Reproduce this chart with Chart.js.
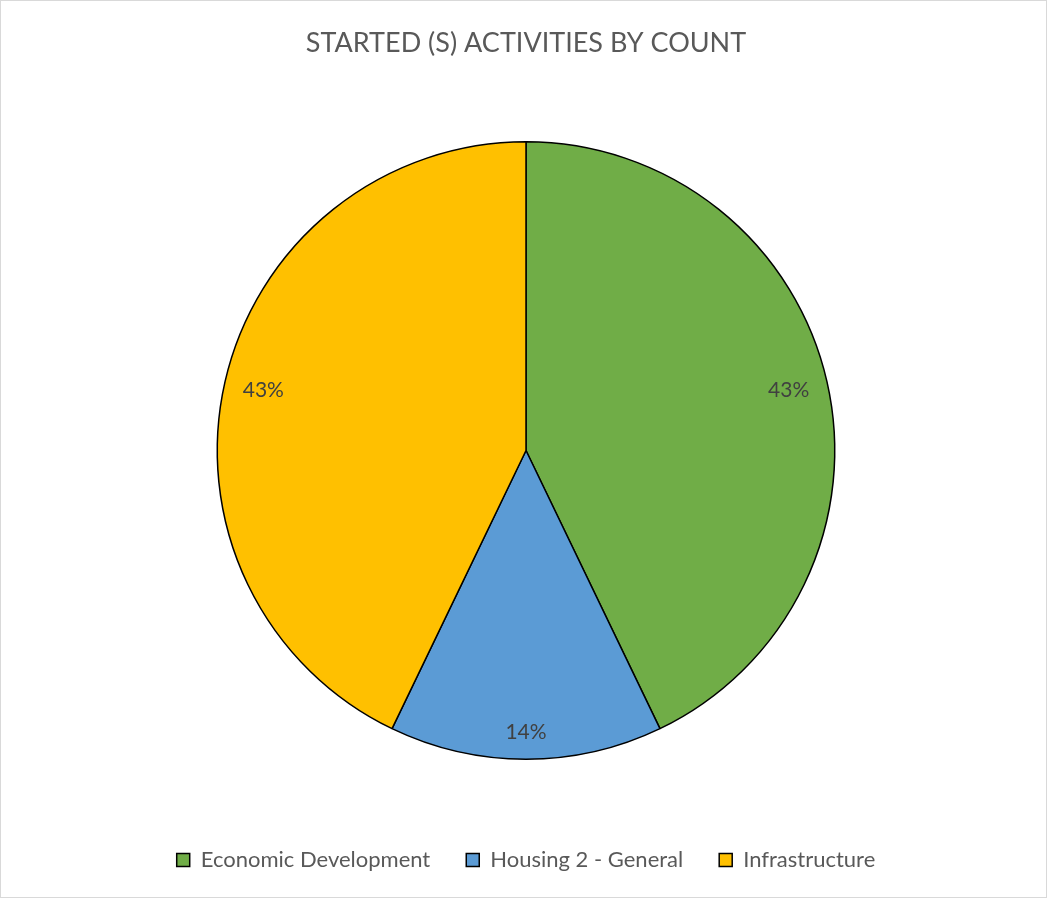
<!DOCTYPE html>
<html>
<head>
<meta charset="utf-8">
<script src="https://cdn.jsdelivr.net/npm/chart.js@4.4.1/dist/chart.umd.min.js"></script>
<style>
  body { margin: 0; background: #fff; overflow: hidden; }
  #wrap { position: relative; width: 1047px; height: 898px; overflow: hidden; }
  #frame { position: absolute; left: 0; top: 0; width: 1045px; height: 896px; border: 1px solid #d9d9d9; pointer-events: none; }
</style>
</head>
<body>
<div id="wrap">
  <canvas id="pie"></canvas>
  <div id="frame"></div>
</div>
<script>
// chart data
const categories = ['Economic Development', 'Housing 2 - General', 'Infrastructure'];
const counts = [3, 1, 3];
const sliceColors = ['#70AD47', '#5B9BD5', '#FFC000'];

const FONT = 'Lato, "Open Sans", sans-serif';

// percentage labels, placed just inside the slice edge (like Excel "best fit")
const pctLabels = {
  id: 'pctLabels',
  afterDatasetsDraw(chart) {
    const ctx = chart.ctx;
    const meta = chart.getDatasetMeta(0);
    const total = counts.reduce((a, b) => a + b, 0);
    ctx.save();
    ctx.font = '21px ' + FONT;
    ctx.fillStyle = '#404040';
    ctx.textAlign = 'center';
    ctx.textBaseline = 'middle';
    meta.data.forEach((arc, i) => {
      const txt = Math.round(counts[i] / total * 100) + '%';
      const halfW = ctx.measureText(txt).width / 2;
      const halfH = 10;
      const mid = (arc.startAngle + arc.endAngle) / 2;
      const c = Math.cos(mid), s = Math.sin(mid);
      const r = arc.outerRadius - 17 - (Math.abs(c) * halfW + Math.abs(s) * halfH);
      ctx.fillText(txt, arc.x + c * r, arc.y + s * r);
    });
    ctx.restore();
  }
};

const canvas = document.getElementById('pie');
canvas.width = 1047;
canvas.height = 881;

new Chart(canvas, {
  type: 'pie',
  data: {
    labels: categories,
    datasets: [{
      data: counts,
      backgroundColor: sliceColors,
      borderColor: '#000',
      borderWidth: 1.5
    }]
  },
  options: {
    responsive: false,
    animation: false,
    layout: { padding: { left: 5, right: 0, top: 0, bottom: 0 } },
    plugins: {
      title: {
        display: true,
        text: 'STARTED (S) ACTIVITIES BY COUNT',
        color: '#595959',
        font: { family: FONT, size: 27, weight: 'normal' },
        padding: { top: 27, bottom: 81.6 }
      },
      subtitle: {
        display: true,
        position: 'bottom',
        text: '',
        font: { size: 10 },
        padding: 20.5
      },
      legend: {
        position: 'bottom',
        weight: 3000,
        labels: {
          color: '#595959',
          font: { family: FONT, size: 22 },
          boxWidth: 13,
          boxHeight: 13,
          padding: 36
        }
      },
      tooltip: { enabled: false }
    }
  },
  plugins: [pctLabels]
});
</script>
</body>
</html>
